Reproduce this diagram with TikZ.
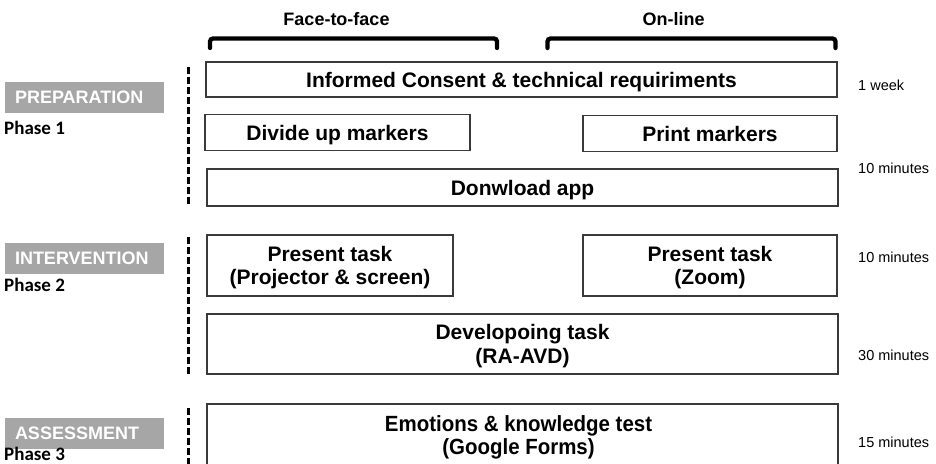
\documentclass[tikz,border=0pt]{standalone}
\usepackage{fontspec}
\setmainfont{Liberation Sans}
\newfontfamily\phasefont{Carlito}
\definecolor{boxline}{HTML}{3A3A3A}
\definecolor{greylab}{HTML}{A6A6A6}
\begin{document}
\begin{tikzpicture}[x=1pt,y=-1pt,
  box/.style={draw=boxline, line width=1.3pt, inner sep=0pt, fill=white,
    font=\bfseries\fontsize{21}{23}\selectfont, text=black,
    text height=15pt, text depth=0pt},
  line/.style={inner sep=0pt, font=\bfseries\fontsize{21}{23}\selectfont,
    text=black, text height=15pt, text depth=0pt},
  greybox/.style={fill=greylab, text=white, inner xsep=10pt, inner ysep=0pt,
    text width=139pt, minimum height=31pt, align=left,
    font=\bfseries\fontsize{18}{18}\selectfont, text height=12.9pt, text depth=0pt},
  phase/.style={inner sep=0pt, font=\phasefont\bfseries\fontsize{19}{19}\selectfont,
    text depth=0pt},
  time/.style={inner sep=0pt, font=\fontsize{14.5}{14.5}\selectfont,
    text height=10.4pt, text depth=0pt},
  head/.style={inner sep=0pt, font=\bfseries\fontsize{18}{18}\selectfont,
    text height=12.9pt, text depth=0pt},
  bracket/.style={line width=4.3pt, rounded corners=3pt, line cap=round},
  divider/.style={line width=3pt, dash pattern=on 6.5pt off 3.5pt}
]
\useasboundingbox (0,0) rectangle (936,463);
\clip (0,0) rectangle (936,463);

% header labels and brackets
\node[head] (hf) at (336.5,19) {Face-to-face};
\node[head] (ho) at (673.5,19) {On-line};
\draw[bracket] (210,48) -- (210,38.5) -- (497,38.5) -- (497,48);
\draw[bracket] (547.5,48) -- (547.5,38.5) -- (835.5,38.5) -- (835.5,48);

% phase labels
\node[greybox] (g1) at (84.5,97.5) {PREPARATION};
\node[phase, anchor=base west] (p1) at (4,134) {Phase 1};
\node[greybox] (g2) at (84.5,258.5) {INTERVENTION};
\node[phase, anchor=base west] (p2) at (4,291.5) {Phase 2};
\node[greybox] (g3) at (84.5,433) {ASSESSMENT};
\node[phase, anchor=base west] (p3) at (4,460.5) {Phase 3};

% dashed dividers
\draw[divider] (188,67) -- (188,207);
\draw[divider] (188,237) -- (188,375);
\draw[divider] (188,408) -- (188,470);

% boxes
\node[box, minimum width=631pt, minimum height=35pt] (b1) at (521.5,79.5)
  {Informed Consent \& technical requiriments};
\node[box, minimum width=265pt, minimum height=36pt] (b2) at (337.5,132.5)
  {Divide up markers};
\node[box, minimum width=254pt, minimum height=36pt] (b3) at (710,133.5)
  {Print markers};
\node[box, minimum width=631pt, minimum height=37pt] (b4) at (522.5,187.5)
  {Donwload app};

\node[box, minimum width=246pt, minimum height=61pt] (b5) at (330,265.5) {};
\node[line] (b5a) at (330,254) {Present task};
\node[line] (b5b) at (330,277) {(Projector \& screen)};

\node[box, minimum width=254pt, minimum height=61pt] (b6) at (710,265.5) {};
\node[line] (b6a) at (710,254) {Present task};
\node[line] (b6b) at (710,277) {(Zoom)};

\node[box, minimum width=631pt, minimum height=60pt] (b7) at (522.5,344) {};
\node[line] (b7a) at (522.5,332) {Developoing task};
\node[line] (b7b) at (522.5,356) {(RA-AVD)};

\node[box, minimum width=631pt, minimum height=64pt] (b8) at (522.5,436) {};
\node[line, font=\bfseries\fontsize{22}{23}\selectfont\addfontfeature{FakeStretch=0.93},
  text height=15.8pt] (b8a) at (518.5,423.5) {Emotions \& knowledge test};
\node[line, font=\bfseries\fontsize{22}{23}\selectfont\addfontfeature{FakeStretch=0.93},
  text height=15.8pt] (b8b) at (518.5,447) {(Google Forms)};

% durations
\node[time, anchor=west] (t1) at (858,85) {1 week};
\node[time, anchor=west] (t2) at (858,168) {10 minutes};
\node[time, anchor=west] (t3) at (858,257) {10 minutes};
\node[time, anchor=west] (t4) at (858,355) {30 minutes};
\node[time, anchor=west] (t5) at (858,442) {15 minutes};
\end{tikzpicture}
\end{document}
